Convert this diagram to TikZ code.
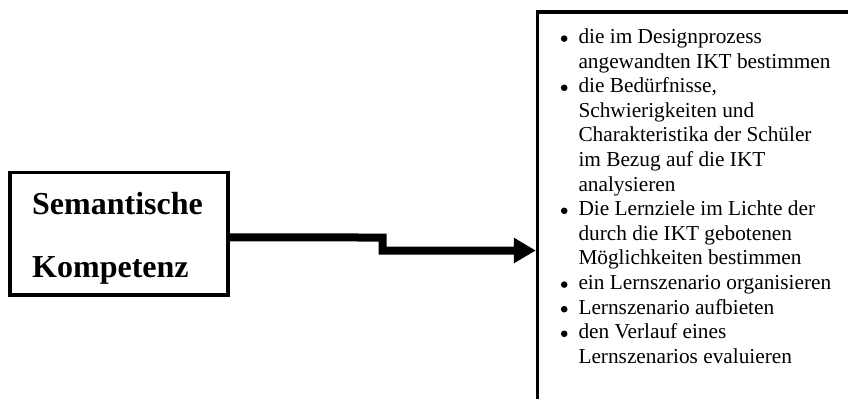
\documentclass[tikz,border=0pt]{standalone}
\usepackage{fontspec}
\setmainfont{Liberation Serif}
\usetikzlibrary{arrows.meta}
% round list bullet with a fixed hanging indent
\newcommand\itemdot{\makebox[18bp][l]{\hspace{0.4bp}\raisebox{1.6bp}{\tikz\fill[black] (0pt,0pt) circle[radius=3.3bp];}}}
\begin{document}
\begin{tikzpicture}[x=1bp,y=-1bp,
  box/.style={draw=black, line width=3.3bp, fill=white, inner sep=0pt},
  boldlabel/.style={anchor=base west, inner sep=0pt,
    font=\fontsize{32bp}{38bp}\selectfont\bfseries},
  listtext/.style={anchor=base west, inner sep=0pt,
    font=\fontsize{21.3bp}{24.6bp}\selectfont},
  conn/.style={line width=8bp, line join=miter, line cap=butt,
    -{Triangle[length=22bp,width=24bp]}}]
\clip (0,0) rectangle (848,398);
\fill[white] (0,0) rectangle (848,398);

% left box
\node[box, minimum width=218bp, minimum height=122.7bp] (lbox) at (119,233.65) {};
\node[boldlabel] (sem) at (32,214) {Semantische};
\node[boldlabel] (kom) at (32,277) {Kompetenz};

% right box, running past the page edges
\node[box, minimum width=342.5bp, minimum height=418bp] (rbox) at (708.75,221) {};
\node[listtext] (items) at (560.3,43.5) {%
\begin{tabular}[t]{@{}l@{}l@{}}
\itemdot & die im Designprozess\\
 & angewandten IKT bestimmen\\
\itemdot & die Bedürfnisse,\\
 & Schwierigkeiten und\\
 & Charakteristika der Schüler\\
 & im Bezug auf die IKT\\
 & analysieren\\
\itemdot & Die Lernziele im Lichte der\\
 & durch die IKT gebotenen\\
 & Möglichkeiten bestimmen\\
\itemdot & ein Lernszenario organisieren\\
\itemdot & Lernszenario aufbieten\\
\itemdot & den Verlauf eines\\
 & Lernszenarios evaluieren
\end{tabular}};

% stepped connector
\draw[conn] ([yshift=-3.8bp]lbox.east) -- (382.7,237.5) -- (382.7,250.5)
  -- (rbox.west |- 0,250.5);
\end{tikzpicture}
\end{document}
